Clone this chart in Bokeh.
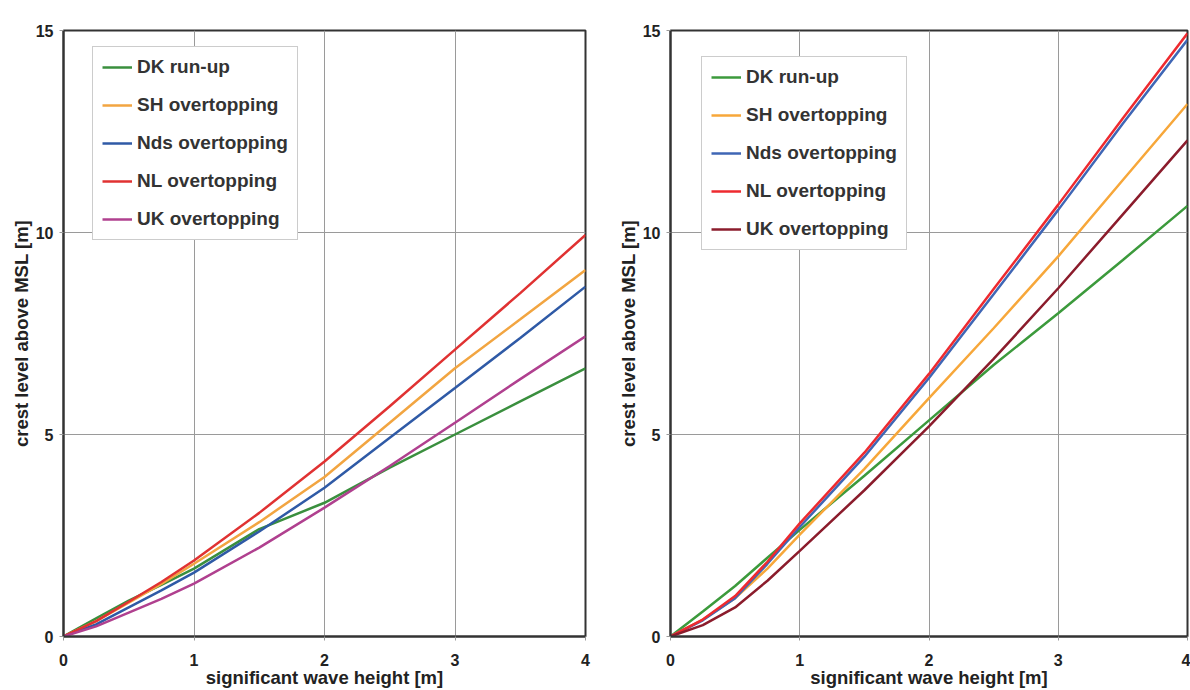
from bokeh.plotting import figure
from bokeh.models import Range1d, FixedTicker, Legend, LegendItem
from bokeh.layouts import row
from bokeh.embed import file_html
from bokeh.resources import INLINE

# significant wave height [m]
hs = [0, 0.25, 0.5, 0.75, 1, 1.5, 2, 2.5, 3, 3.5, 4]

series_labels = ["DK run-up", "SH overtopping", "Nds overtopping", "NL overtopping", "UK overtopping"]

# left panel: crest level above MSL [m]
left_dk = [0, 0.45, 0.89, 1.28, 1.68, 2.66, 3.31, 4.18, 5.0, 5.82, 6.64]
left_sh = [0, 0.38, 0.84, 1.30, 1.80, 2.83, 3.95, 5.29, 6.64, 7.85, 9.07]
left_nds = [0, 0.30, 0.72, 1.14, 1.58, 2.60, 3.68, 4.92, 6.15, 7.39, 8.66]
left_nl = [0, 0.38, 0.86, 1.35, 1.88, 3.06, 4.33, 5.70, 7.10, 8.50, 9.94]
left_uk = [0, 0.25, 0.59, 0.93, 1.31, 2.20, 3.19, 4.22, 5.29, 6.37, 7.43]

# right panel: crest level above MSL [m]
right_dk = [0, 0.62, 1.25, 1.95, 2.64, 3.98, 5.35, 6.72, 8.00, 9.32, 10.66]
right_sh = [0, 0.42, 0.95, 1.68, 2.52, 4.15, 5.90, 7.63, 9.41, 11.30, 13.18]
right_nds = [0, 0.40, 0.95, 1.80, 2.71, 4.45, 6.40, 8.47, 10.56, 12.70, 14.77]
right_nl = [0, 0.42, 1.00, 1.85, 2.80, 4.55, 6.50, 8.60, 10.69, 12.83, 14.93]
right_uk = [0, 0.28, 0.72, 1.38, 2.12, 3.62, 5.20, 6.87, 8.62, 10.45, 12.28]

x_ticks = [0, 1, 2, 3, 4]
y_ticks = [0, 5, 10, 15]

left_colors = ["#3a8f3e", "#f2a541", "#2f5aa6", "#e03232", "#b0408f"]
right_colors = ["#3c9a3c", "#f7a73a", "#3f66b5", "#ee2a2f", "#8b1c2c"]

FONT = "Liberation Sans"


def make_panel(width, height, bl, br, bt, bb, series, colors, legend_loc):
    p = figure(width=width, height=height,
               x_range=Range1d(0, 4), y_range=Range1d(0, 15),
               output_backend="svg", toolbar_location=None,
               min_border_left=bl, min_border_right=br,
               min_border_top=bt, min_border_bottom=bb)
    p.background_fill_color = "white"
    p.border_fill_color = "white"
    p.outline_line_color = "#333333"
    p.outline_line_width = 2

    p.grid.grid_line_color = "#9a9a9a"
    p.grid.grid_line_width = 1

    p.xaxis.ticker = FixedTicker(ticks=x_ticks)
    p.yaxis.ticker = FixedTicker(ticks=y_ticks)
    p.axis.minor_tick_line_color = None
    p.axis.major_tick_in = 0
    p.axis.major_tick_out = 4
    p.axis.major_tick_line_color = "#9a9a9a"
    p.axis.axis_line_color = "#333333"
    p.axis.axis_line_width = 2
    p.axis.major_label_text_font = FONT
    p.axis.major_label_text_font_style = "bold"
    p.axis.major_label_text_font_size = "16px"
    p.axis.major_label_text_color = "#222222"
    p.xaxis.major_label_standoff = 13
    p.yaxis.major_label_standoff = 6

    p.xaxis.axis_label = "significant wave height [m]"
    p.yaxis.axis_label = "crest level above MSL [m]"
    p.axis.axis_label_text_font = FONT
    p.axis.axis_label_text_font_style = "bold"
    p.axis.axis_label_text_font_size = "18.5px"
    p.axis.axis_label_text_color = "#222222"
    p.xaxis.axis_label_standoff = -2
    p.yaxis.axis_label_standoff = 1

    items = []
    for lab, ys, c in zip(series_labels, series, colors):
        r = p.line(hs, ys, line_color=c, line_width=2.5)
        items.append(LegendItem(label=lab, renderers=[r]))

    leg = Legend(items=items, location=legend_loc)
    leg.label_text_font = FONT
    leg.label_text_font_style = "bold"
    leg.label_text_font_size = "19px"
    leg.label_text_color = "#333333"
    leg.border_line_color = "#9a9a9a"
    leg.border_line_width = 1
    leg.background_fill_color = "white"
    leg.background_fill_alpha = 1
    leg.glyph_width = 30
    leg.glyph_height = 22
    leg.label_height = 22
    leg.label_standoff = 5
    leg.spacing = 16
    leg.padding = 9
    leg.margin = 0
    p.add_layout(leg)
    return p


p1 = make_panel(600, 690, 63, 15, 30, 54,
                [left_dk, left_sh, left_nds, left_nl, left_uk], left_colors, (29, 396))
p2 = make_panel(590, 690, 70, 3, 30, 54,
                [right_dk, right_sh, right_nds, right_nl, right_uk], right_colors, (31, 386))

layout = row(p1, p2)

open("out.html", "w").write(file_html(layout, INLINE))
